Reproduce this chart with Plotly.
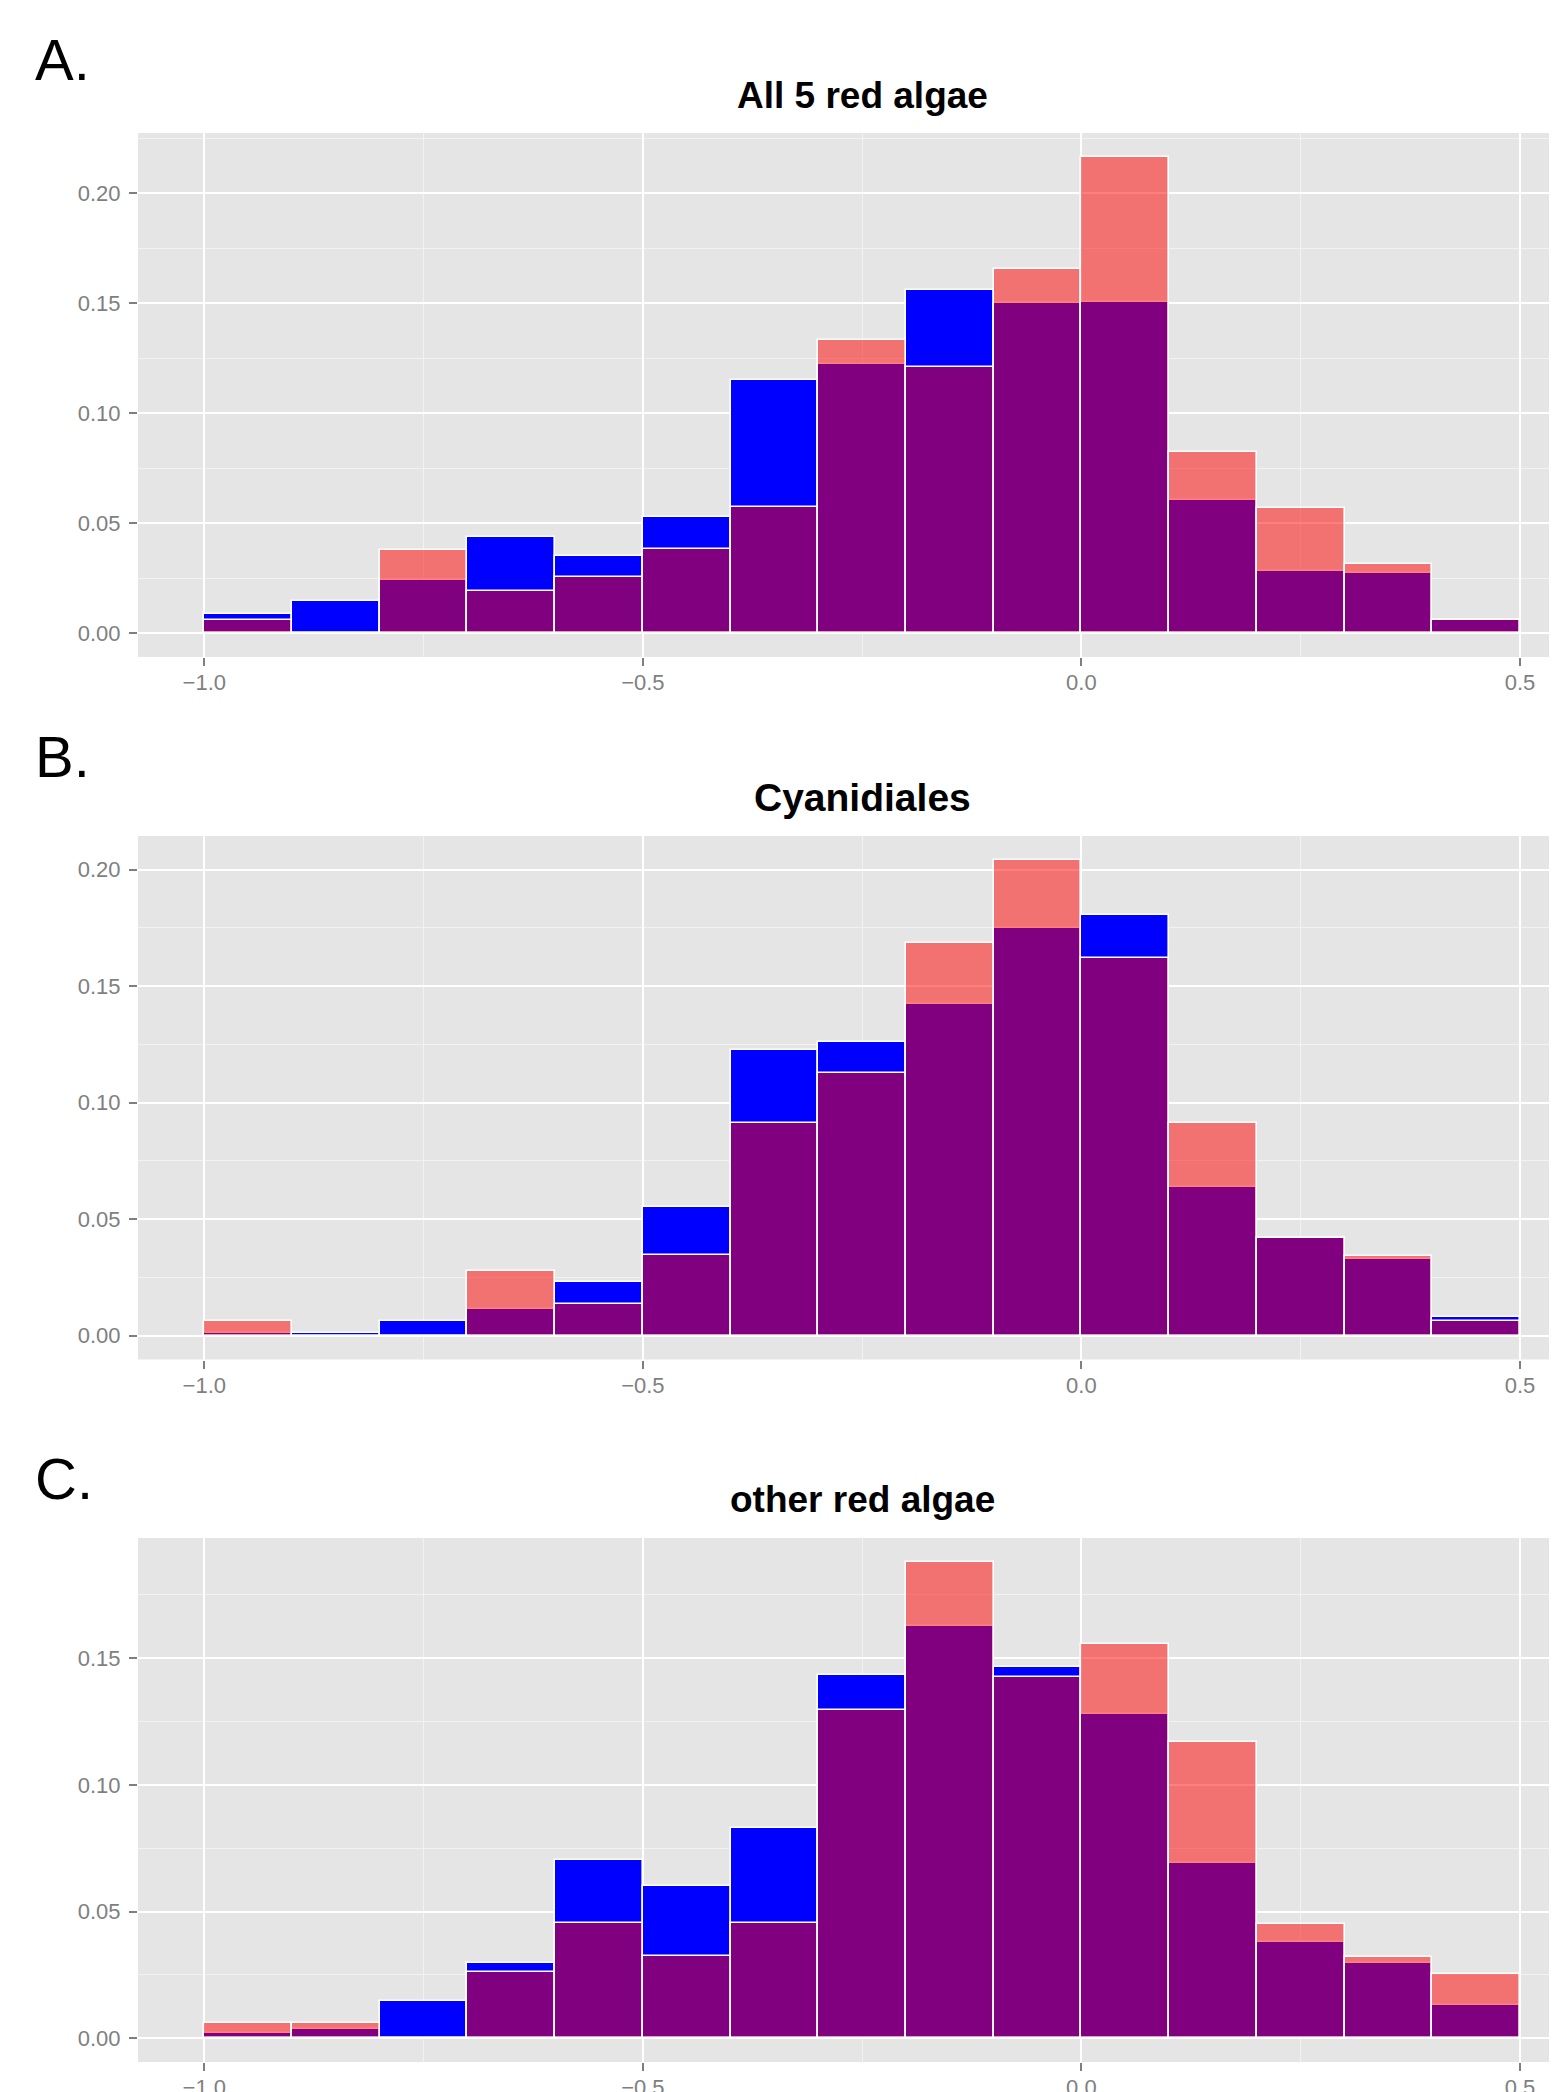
import plotly.graph_objects as go

# ---------------- data ----------------
bin_left = [-1.0, -0.9, -0.8, -0.7, -0.6, -0.5, -0.4, -0.3, -0.2, -0.1, 0.0, 0.1, 0.2, 0.3, 0.4]
bin_width = 0.1

panel_tags = ["A.", "B.", "C."]
panel_titles = ["All 5 red algae", "Cyanidiales", "other red algae"]

# Panel A: All 5 red algae
all_red = [0.0061, 0.0, 0.0380, 0.0191, 0.0256, 0.0382, 0.0575, 0.1333, 0.1210, 0.1654, 0.2165,
           0.0825, 0.0571, 0.0315, 0.0060]
all_blue = [0.0089, 0.0148, 0.0240, 0.0439, 0.0350, 0.0530, 0.1150, 0.1222, 0.1561, 0.1500, 0.1506,
            0.0606, 0.0283, 0.0274, 0.0060]

# Panel B: Cyanidiales
cya_red = [0.0065, 0.0, 0.0, 0.0277, 0.0136, 0.0348, 0.0913, 0.1126, 0.1687, 0.2042, 0.1620,
           0.0913, 0.0419, 0.0344, 0.0063]
cya_blue = [0.0010, 0.0012, 0.0065, 0.0113, 0.0229, 0.0551, 0.1224, 0.1260, 0.1424, 0.1748, 0.1806,
            0.0638, 0.0419, 0.0330, 0.0079]

# Panel C: other red algae
oth_red = [0.0059, 0.0059, 0.0, 0.0260, 0.0455, 0.0325, 0.0455, 0.1297, 0.1881, 0.1428, 0.1558,
           0.1168, 0.0451, 0.0320, 0.0255]
oth_blue = [0.0022, 0.0038, 0.0147, 0.0297, 0.0703, 0.0601, 0.0829, 0.1435, 0.1629, 0.1467, 0.1281,
            0.0692, 0.0381, 0.0295, 0.0131]

panels = [(all_blue, all_red), (cya_blue, cya_red), (oth_blue, oth_red)]

x_tickvals = [-1.0, -0.5, 0.0, 0.5]

# ---------------- layout geometry ----------------
# the page body adds an 8px margin; target positions below are page pixels
OFF = 8
W, H = 1557, 2092
plot_left, plot_right = 138, 1557
ML = plot_left - OFF
MR = W - (plot_right - OFF)
MT = 133 - OFF
MB = H - (2062 - OFF)
PW, PH = W - ML - MR, H - MT - MB


def px_x(p):
    return (p - OFF - ML) / PW


def px_y(p):
    return (H - MB - (p - OFF)) / PH


panel_px = [(133, 657), (836, 1359.5), (1538, 2062)]
tag_y_px = [59, 757, 1478]
title_y_px = [95, 797, 1500]
title_x_px = 862

# x scale: -1.0 at page px 204.3, 877.1 px per unit
x_lo = -1.0 - (204.3 - plot_left) / 877.1
x_hi = x_lo + (plot_right - plot_left) / 877.1

FONT = "Liberation Sans, Arial, Helvetica, sans-serif"
GREY = "#7F7F7F"

fig = go.Figure()
x_centers = [b + bin_width / 2 for b in bin_left]

layout = dict(
    template="none",
    width=W, height=H,
    autosize=False,
    margin=dict(l=ML, r=MR, t=MT, b=MB, pad=0, autoexpand=False),
    paper_bgcolor="white",
    plot_bgcolor="#E5E5E5",
    barmode="overlay",
    bargap=0,
    showlegend=False,
    font=dict(family=FONT),
    annotations=[],
)

title_sizes = [37, 39, 37]

for i, (blue, red) in enumerate(panels):
    n = i + 1
    xa = "x" if n == 1 else f"x{n}"
    ya = "y" if n == 1 else f"y{n}"
    fig.add_trace(go.Bar(
        x=x_centers, y=blue, width=[bin_width] * len(blue),
        marker=dict(color="#0000FF", line=dict(color="white", width=1.6)),
        xaxis=xa, yaxis=ya, hoverinfo="skip",
    ))
    fig.add_trace(go.Bar(
        x=x_centers, y=red, width=[bin_width] * len(red),
        marker=dict(color="rgba(255,0,0,0.5)", line=dict(color="white", width=1.6)),
        xaxis=xa, yaxis=ya, hoverinfo="skip",
    ))

    ymax = max(max(blue), max(red))
    top_px, bot_px = panel_px[i]
    xkey = "xaxis" if n == 1 else f"xaxis{n}"
    ykey = "yaxis" if n == 1 else f"yaxis{n}"

    layout[xkey] = dict(
        domain=[0, 1], anchor=ya, automargin=False,
        range=[x_lo, x_hi],
        tickvals=x_tickvals, tickformat=".1f",
        ticks="outside", ticklen=8, tickwidth=1.6, tickcolor=GREY,
        tickfont=dict(size=22, color=GREY, family=FONT),
        ticklabelstandoff=-2,
        showgrid=True, gridcolor="white", gridwidth=1.8,
        zeroline=False, showline=False,
        minor=dict(dtick=0.25, tick0=0, showgrid=True, gridcolor="#F2F2F2", gridwidth=1, ticks=""),
    )
    layout[ykey] = dict(
        domain=[px_y(bot_px), px_y(top_px)], anchor=xa, automargin=False,
        range=[-0.05 * ymax, 1.05 * ymax],
        tick0=0, dtick=0.05, tickformat=".2f",
        ticks="outside", ticklen=8, tickwidth=1.6, tickcolor=GREY,
        tickfont=dict(size=22, color=GREY, family=FONT),
        ticklabelstandoff=4,
        showgrid=True, gridcolor="white", gridwidth=1.8,
        zeroline=False, showline=False,
        minor=dict(dtick=0.025, tick0=0, showgrid=True, gridcolor="#F2F2F2", gridwidth=1, ticks=""),
    )

    layout["annotations"].append(dict(
        text=panel_tags[i], xref="paper", yref="paper",
        x=px_x(33), y=px_y(tag_y_px[i]), xanchor="left", yanchor="middle",
        showarrow=False, font=dict(size=58, color="black", family=FONT),
    ))
    layout["annotations"].append(dict(
        text="<b>" + panel_titles[i] + "</b>", xref="paper", yref="paper",
        x=px_x(title_x_px), y=px_y(title_y_px[i]), xanchor="center", yanchor="middle",
        showarrow=False, font=dict(size=title_sizes[i], color="black", family=FONT),
    ))

fig.update_layout(**layout)
fig.write_html("out.html")
